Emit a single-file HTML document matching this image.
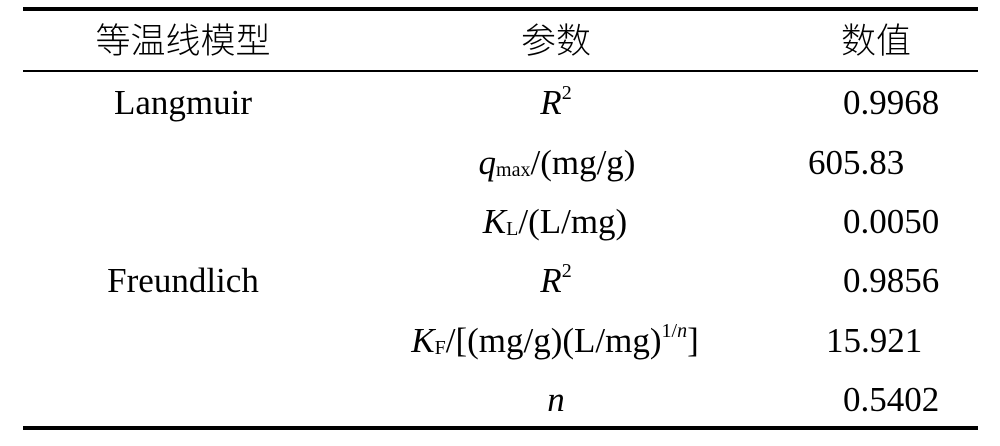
<!DOCTYPE html>
<html><head><meta charset="utf-8"><style>
body{margin:0;background:#fff;width:1000px;height:446px;position:relative;overflow:hidden;font-family:"Liberation Serif","Noto Serif CJK SC",serif;color:#000}
.l{position:absolute;left:23px;width:955px;background:#000}
.t{position:absolute;font-size:35px;line-height:40px;height:40px;white-space:nowrap;transform:translateX(-50%)}
.cj{font-family:"Noto Sans CJK SC","WenQuanYi Zen Hei",sans-serif;font-weight:300;font-size:35px}
.r{position:absolute;font-size:35px;line-height:40px;white-space:nowrap}
sub{font-size:20px;vertical-align:-2px}
sup{font-size:20px;vertical-align:15px;line-height:0}
i{font-style:italic}
</style></head><body>
<div class="l" style="top:7px;height:4px"></div>
<div class="l" style="top:70px;height:2px"></div>
<div class="l" style="top:426px;height:4px"></div>

<div class="t cj" style="left:183px;top:19px">等温线模型</div>
<div class="t cj" style="left:556px;top:19px">参数</div>
<div class="t cj" style="left:876px;top:19px">数值</div>

<div class="t" style="left:183px;top:83px">Langmuir</div>
<div class="t" style="left:183px;top:261px">Freundlich</div>

<div class="t" style="left:556px;top:83px"><i>R</i><sup>2</sup></div>
<div class="t" style="left:557px;top:143px"><i>q</i><sub>max</sub>/(mg/g)</div>
<div class="t" style="left:555px;top:202px"><i>K</i><sub>L</sub>/(L/mg)</div>
<div class="t" style="left:556px;top:261px"><i>R</i><sup>2</sup></div>
<div class="t" style="left:555px;top:321px"><i>K</i><sub>F</sub>/[(mg/g)(L/mg)<sup>1/<i>n</i></sup>]</div>
<div class="t" style="left:556px;top:380px"><i>n</i></div>

<div class="r" style="left:843px;top:83px">0.9968</div>
<div class="r" style="left:808px;top:143px">605.83</div>
<div class="r" style="left:843px;top:202px">0.0050</div>
<div class="r" style="left:843px;top:261px">0.9856</div>
<div class="r" style="left:826px;top:321px">15.921</div>
<div class="r" style="left:843px;top:380px">0.5402</div>
</body></html>
